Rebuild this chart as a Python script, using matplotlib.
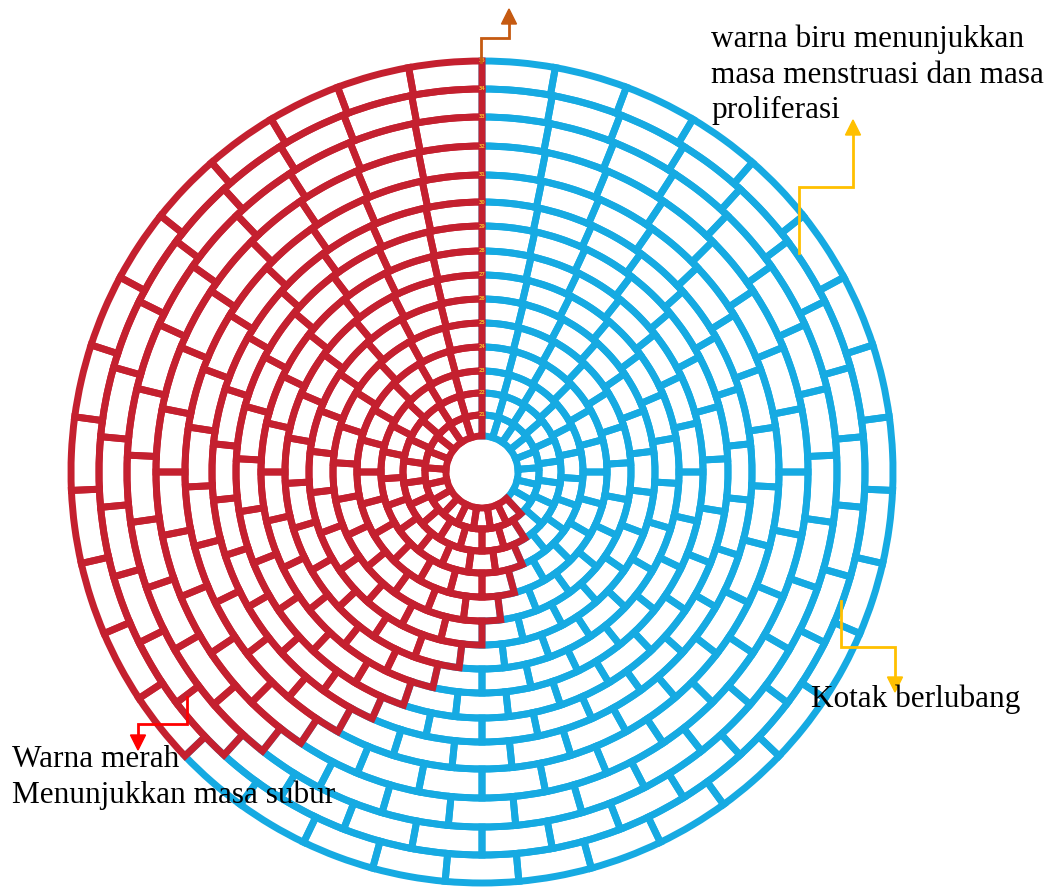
import matplotlib
matplotlib.use("Agg")
import matplotlib.pyplot as plt
from matplotlib.patches import Wedge, Polygon

# cycle length of each ring, inner to outer
cycle_days = [21, 22, 23, 24, 25, 26, 27, 28, 29, 30, 31, 32, 33, 34, 35]
# days shown blue (menstruation + proliferation) in each ring, the rest is red
blue_days = [8, 9, 10, 11, 12, 13, 14, 15, 16, 17, 18, 19, 20, 21, 22]

# ring boundaries (pixels from centre)
ring_edges = [36, 57, 79, 101, 125, 149, 173, 197, 221, 246, 270, 297, 326, 355, 383, 411]

RED = '#C4202F'
BLUE = '#16AAE2'
W, H = 1059, 890
cx, cy = 482, H - 472

fig = plt.figure(figsize=(W / 100, H / 100), dpi=100)
ax = fig.add_axes([0, 0, 1, 1])
ax.set_xlim(0, W)
ax.set_ylim(0, H)
ax.axis('off')


def draw_ring(k, color, first, last):
    n = cycle_days[k]
    r0, r1 = ring_edges[k], ring_edges[k + 1]
    step = 360 / n
    for d in range(first, last):
        a0 = 90 - (d + 1) * step
        a1 = 90 - d * step
        ax.add_patch(Wedge((cx, cy), r1, a0, a1, width=r1 - r0, fill=False,
                           edgecolor=color, lw=5, joinstyle='miter'))


for k in range(len(cycle_days)):
    draw_ring(k, BLUE, 0, blue_days[k])
for k in range(len(cycle_days)):
    draw_ring(k, RED, blue_days[k], cycle_days[k])

# tiny day numbers on the start line
for k, n in enumerate(cycle_days):
    ax.text(cx, cy + ring_edges[k + 1], str(n), fontsize=3.5, color='#F2B42A',
            ha='center', va='center', fontweight='bold', zorder=5)


def elbow_arrow(pts, tip, color):
    xs = [p[0] for p in pts]
    ys = [H - p[1] for p in pts]
    ax.plot(xs, ys, color=color, lw=2, solid_joinstyle='miter', zorder=6)
    bx, by = pts[-1]
    tx, ty = tip
    if tx == bx:
        head = [(bx - 7.5, H - by), (bx + 7.5, H - by), (tx, H - ty)]
    else:
        head = [(bx, H - by - 7.5), (bx, H - by + 7.5), (tx, H - ty)]
    ax.add_patch(Polygon(head, closed=True, color=color, zorder=6))


elbow_arrow([(481, 62), (481, 38), (509, 38), (509, 24)], (509, 9), '#C55A11')
elbow_arrow([(799, 253), (799, 187), (853, 187), (853, 135)], (853, 120), '#FFC000')
elbow_arrow([(841, 601), (841, 647), (895, 647), (895, 677)], (895, 692), '#FFC000')
elbow_arrow([(187, 697), (187, 724), (138, 724), (138, 735)], (138, 750), '#FF0000')

font = dict(family='Liberation Serif', fontsize=22.5, color='black',
            ha='left', va='baseline', zorder=7)
ax.text(711, H - 47, 'warna biru menunjukkan', **font)
ax.text(711, H - 83, 'masa menstruasi dan masa', **font)
ax.text(711, H - 118, 'proliferasi', **font)
ax.text(811, H - 707, 'Kotak berlubang', **font)
ax.text(12, H - 767, 'Warna merah', **font)
ax.text(12, H - 803, 'Menunjukkan masa subur', **font)

fig.savefig('out.png', dpi=100, facecolor='white')
